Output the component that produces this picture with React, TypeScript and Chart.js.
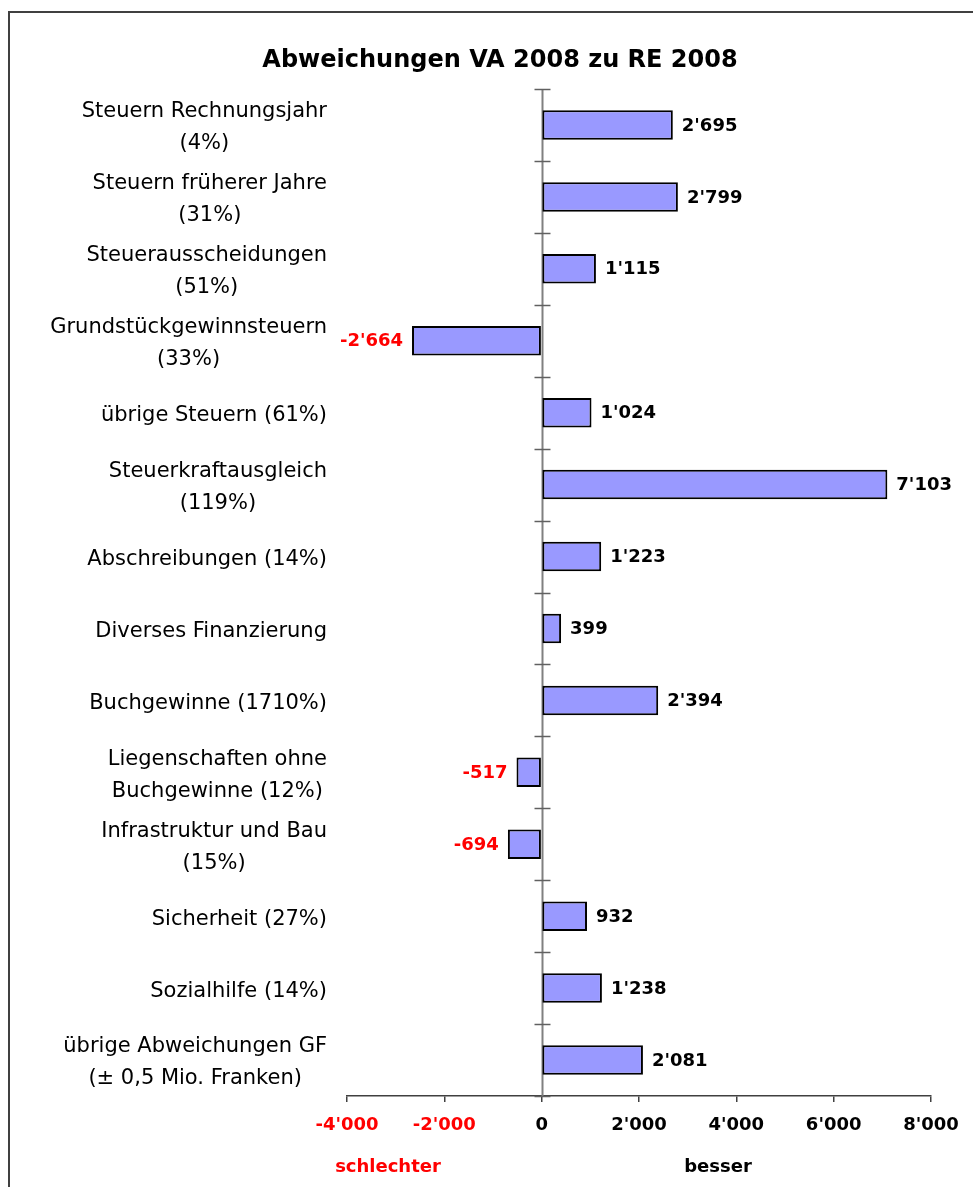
import React, { useEffect, useRef } from "react";
import { Chart, registerables } from "chart.js";

Chart.register(...registerables);

const categoryLabels: string[][] = [
  ["Steuern Rechnungsjahr", "(4%)"],
  ["Steuern früherer Jahre", "(31%)"],
  ["Steuerausscheidungen", "(51%)"],
  ["Grundstückgewinnsteuern", "(33%)"],
  ["übrige Steuern (61%)"],
  ["Steuerkraftausgleich", "(119%)"],
  ["Abschreibungen (14%)"],
  ["Diverses Finanzierung"],
  ["Buchgewinne (1710%)"],
  ["Liegenschaften ohne", "Buchgewinne (12%)"],
  ["Infrastruktur und Bau", "(15%)"],
  ["Sicherheit (27%)"],
  ["Sozialhilfe (14%)"],
  ["übrige Abweichungen GF", "(± 0,5 Mio. Franken)"],
];

const deviations: number[] = [2695, 2799, 1115, -2664, 1024, 7103, 1223, 399, 2394, -517, -694, 932, 1238, 2081];

const axisMin = -4000;
const axisMax = 8000;
const axisStep = 2000;

const titleText = "Abweichungen VA 2008 zu RE 2008";
const worseText = "schlechter";
const betterText = "besser";

const FONT = '"DejaVu Sans", Verdana, sans-serif';
const RED = "#FF0000";

function fmt(v: number): string {
  const s = Math.abs(Math.round(v)).toString().replace(/\B(?=(\d{3})+(?!\d))/g, "'");
  return (v < 0 ? "-" : "") + s;
}

const decorPlugin = {
  id: "decor",
  beforeDraw(chart: any) {
    const ctx = chart.ctx;
    ctx.save();
    ctx.fillStyle = "#ffffff";
    ctx.fillRect(0, 0, chart.width, chart.height);
    // outer frame (left and top edges visible)
    ctx.strokeStyle = "#404040";
    ctx.lineWidth = 2;
    ctx.beginPath();
    ctx.moveTo(9, chart.height + 5);
    ctx.lineTo(9, 12);
    ctx.lineTo(chart.width + 5, 12);
    ctx.stroke();
    // title
    ctx.fillStyle = "#000";
    ctx.font = `bold 24px ${FONT}`;
    ctx.textAlign = "center";
    ctx.textBaseline = "middle";
    ctx.fillText(titleText, 500, 61);
    ctx.restore();
  },
  beforeDatasetsDraw(chart: any) {
    const ctx = chart.ctx;
    const x = chart.scales.x;
    const y = chart.scales.y;
    const area = chart.chartArea;
    const x0 = Math.round(x.getPixelForValue(0)) + 0.5;
    ctx.save();
    ctx.strokeStyle = "#808080";
    ctx.lineWidth = 2;
    ctx.beginPath();
    ctx.moveTo(x0, area.top);
    ctx.lineTo(x0, area.bottom);
    ctx.stroke();
    const n = categoryLabels.length;
    const h = (y.getPixelForValue(1) - y.getPixelForValue(0));
    ctx.lineWidth = 1.5;
    ctx.strokeStyle = "#606060";
    for (let i = 0; i <= n; i++) {
      const py = Math.round(y.getPixelForValue(i) - h / 2) + 0.5;
      ctx.beginPath();
      ctx.moveTo(x0 - 8, py);
      ctx.lineTo(x0 + 8, py);
      ctx.stroke();
    }
    // category labels: block right-aligned, lines centered within block
    ctx.fillStyle = "#000";
    ctx.font = `21px ${FONT}`;
    ctx.textAlign = "center";
    ctx.textBaseline = "middle";
    const rightEdge = 327;
    const lh = 32;
    categoryLabels.forEach((lines, i) => {
      const cy = y.getPixelForValue(i) + 3;
      const maxW = Math.max(...lines.map((l) => ctx.measureText(l).width));
      const cx = rightEdge - maxW / 2;
      lines.forEach((l, j) => {
        ctx.fillText(l, cx, cy + (j - (lines.length - 1) / 2) * lh);
      });
    });
    ctx.restore();
  },
  afterDatasetsDraw(chart: any) {
    const ctx = chart.ctx;
    const meta = chart.getDatasetMeta(0);
    ctx.save();
    ctx.font = `bold 18px ${FONT}`;
    ctx.textBaseline = "middle";
    meta.data.forEach((bar: any, i: number) => {
      const v = deviations[i];
      if (v >= 0) {
        ctx.fillStyle = "#000";
        ctx.textAlign = "left";
        ctx.fillText(fmt(v), bar.x + 9, bar.y + 1);
      } else {
        ctx.fillStyle = RED;
        ctx.textAlign = "right";
        ctx.fillText(fmt(v), bar.x - 9, bar.y + 1);
      }
    });
    // bottom captions
    ctx.textAlign = "center";
    ctx.fillStyle = RED;
    ctx.fillText(worseText, 388, 1167);
    ctx.fillStyle = "#000";
    ctx.fillText(betterText, 718, 1167);
    ctx.restore();
  },
};

export default function App() {
  const ref = useRef<HTMLCanvasElement | null>(null);
  useEffect(() => {
    if (!ref.current) return;
    const chart = new Chart(ref.current, {
      type: "bar",
      data: {
        labels: categoryLabels.map((l) => l.join(" ")),
        datasets: [
          {
            data: deviations,
            backgroundColor: "#9999FF",
            borderColor: "#000000",
            borderWidth: 2,
            borderSkipped: false,
            barPercentage: 0.41,
            categoryPercentage: 1,
          },
        ],
      },
      options: {
        indexAxis: "y",
        responsive: false,
        animation: false,
        devicePixelRatio: 1,
        layout: { padding: { top: 89, right: 42, bottom: 0, left: 0 } },
        plugins: {
          legend: { display: false },
          title: { display: false },
          tooltip: { enabled: false },
        },
        scales: {
          y: {
            type: "category",
            offset: true,
            grid: { display: false },
            border: { display: false },
            ticks: { display: false },
            afterFit: (s: any) => {
              s.width = 347;
            },
          },
          x: {
            type: "linear",
            min: axisMin,
            max: axisMax,
            ticks: {
              stepSize: axisStep,
              padding: 13,
              font: { family: FONT, size: 18, weight: "bold" },
              color: (c: any) => (c.tick && c.tick.value < 0 ? RED : "#000"),
              callback: (v: any) => fmt(Number(v)),
            },
            grid: {
              drawOnChartArea: false,
              drawTicks: true,
              tickLength: 6,
              color: "#404040",
              lineWidth: 1.5,
            },
            border: { display: true, color: "#404040", width: 1.5 },
            afterFit: (s: any) => {
              s.height = 91;
            },
          },
        },
      },
      plugins: [decorPlugin],
    } as any);
    return () => chart.destroy();
  }, []);
  return (
    <div style={{ position: "absolute", left: 0, top: 0, width: 973, height: 1187, overflow: "hidden" }}>
      <canvas ref={ref} width={973} height={1187} style={{ display: "block" }} />
    </div>
  );
}
